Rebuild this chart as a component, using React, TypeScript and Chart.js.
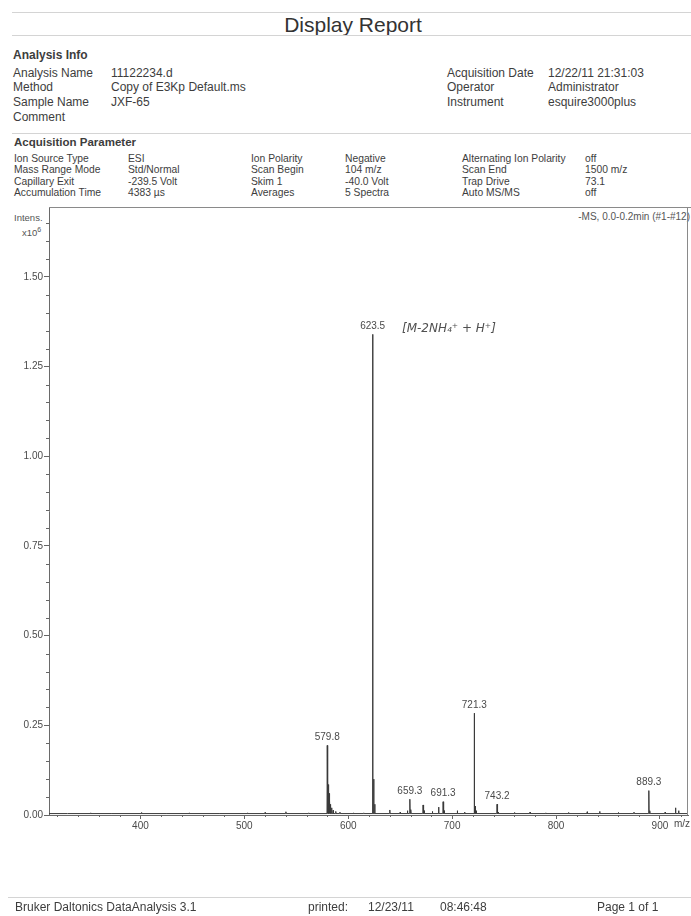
import React, { useEffect, useRef } from "react";
import { Chart, registerables } from "chart.js";

Chart.register(...registerables);

// Stick list of the spectrum (m/z, intensity in units of 10^6)
const stickMz = [
  330, 352, 372, 401, 425, 447, 476, 503, 520, 540, 562,
  579.8, 580.4, 581.0, 581.6, 582.2, 583.0, 584.0, 585.5, 588, 592,
  605, 615,
  623.5, 624.5, 625.5,
  640, 650, 657, 659.3, 660.3,
  672, 673, 681, 687, 691.3, 692.3,
  705, 712, 721.3, 722.3, 723.3,
  743.2, 744.2, 760, 775, 790, 812, 830, 842, 860, 875,
  889.3, 890.3, 905, 915, 918,
];
const stickIntensity = [
  0.004, 0.006, 0.005, 0.007, 0.005, 0.006, 0.005, 0.006, 0.007, 0.009, 0.006,
  0.194, 0.095, 0.085, 0.06, 0.04, 0.03, 0.02, 0.013, 0.01, 0.008,
  0.006, 0.006,
  1.34, 0.1, 0.03,
  0.014, 0.008, 0.012, 0.044, 0.015,
  0.028, 0.012, 0.01, 0.022, 0.037, 0.012,
  0.012, 0.008, 0.284, 0.025, 0.012,
  0.03, 0.008, 0.007, 0.008, 0.006, 0.007, 0.009, 0.01, 0.007, 0.008,
  0.068, 0.012, 0.008, 0.02, 0.012,
];
const baselineLevel = 0.004;

// Peaks annotated with their m/z
const labeledMz = [579.8, 623.5, 659.3, 691.3, 721.3, 743.2, 889.3];

// Axis ranges
const mzMin = 312;
const mzMax = 927;
const intensMax = 1.695;

const analysisInfo = [
  ["Analysis Name", "11122234.d", "Acquisition Date", "12/22/11 21:31:03"],
  ["Method", "Copy of E3Kp Default.ms", "Operator", "Administrator"],
  ["Sample Name", "JXF-65", "Instrument", "esquire3000plus"],
  ["Comment", "", "", ""],
];

const acquisitionParams = [
  ["Ion Source Type", "ESI", "Ion Polarity", "Negative", "Alternating Ion Polarity", "off"],
  ["Mass Range Mode", "Std/Normal", "Scan Begin", "104 m/z", "Scan End", "1500 m/z"],
  ["Capillary Exit", "-239.5 Volt", "Skim 1", "-40.0 Volt", "Trap Drive", "73.1"],
  ["Accumulation Time", "4383 µs", "Averages", "5 Spectra", "Auto MS/MS", "off"],
];

const FONT = "'Liberation Sans', Arial, Helvetica, sans-serif";
const INK = "#3d3d3d";

function buildProfile() {
  const pts: { x: number; y: number }[] = [{ x: mzMin, y: baselineLevel }];
  const half = 0.25;
  stickMz.forEach((mz, i) => {
    pts.push({ x: mz - half, y: baselineLevel });
    pts.push({ x: mz, y: stickIntensity[i] });
    pts.push({ x: mz + half, y: baselineLevel });
  });
  pts.push({ x: mzMax, y: baselineLevel });
  return pts;
}

const spectrumDecor = {
  id: "spectrumDecor",
  afterDraw(chart: any) {
    const { ctx, chartArea, scales } = chart;
    const xs = scales.x;
    const ys = scales.y;
    ctx.save();
    // frame top and right
    ctx.strokeStyle = "#8a8a8a";
    ctx.lineWidth = 1;
    ctx.beginPath();
    ctx.moveTo(chartArea.left, chartArea.top + 0.5);
    ctx.lineTo(chartArea.right + 3, chartArea.top + 0.5);
    ctx.moveTo(chartArea.right - 0.5, chartArea.top);
    ctx.lineTo(chartArea.right - 0.5, chartArea.bottom);
    ctx.stroke();

    // minor ticks
    ctx.strokeStyle = "#666";
    ctx.beginPath();
    for (let v = 0.05; v < intensMax; v += 0.05) {
      const r = Math.round(v * 100);
      if (r % 25 === 0) continue;
      const py = Math.round(ys.getPixelForValue(v)) + 0.5;
      ctx.moveTo(chartArea.left - 3, py);
      ctx.lineTo(chartArea.left, py);
    }
    for (let m = 320; m < mzMax; m += 20) {
      if (m % 100 === 0) continue;
      const px = Math.round(xs.getPixelForValue(m)) + 0.5;
      ctx.moveTo(px, chartArea.bottom);
      ctx.lineTo(px, chartArea.bottom + 2);
    }
    ctx.stroke();

    // peak labels
    ctx.fillStyle = "#4a4a4a";
    ctx.font = `10px ${FONT}`;
    ctx.textAlign = "center";
    ctx.textBaseline = "bottom";
    labeledMz.forEach((mz) => {
      const i = stickMz.indexOf(mz);
      const px = xs.getPixelForValue(mz);
      const py = ys.getPixelForValue(stickIntensity[i]);
      ctx.fillText(mz.toFixed(1), px, py - 3);
    });
    ctx.restore();
  },
};

function T(props: {
  x: number;
  y: number;
  size?: number;
  bold?: boolean;
  color?: string;
  children: React.ReactNode;
  style?: React.CSSProperties;
}) {
  const size = props.size ?? 12;
  return (
    <div
      style={{
        position: "absolute",
        left: props.x,
        top: props.y - size * 0.5,
        fontSize: size,
        lineHeight: `${size}px`,
        fontWeight: props.bold ? 700 : 400,
        fontFamily: FONT,
        color: props.color ?? INK,
        whiteSpace: "nowrap",
        ...props.style,
      }}
    >
      {props.children}
    </div>
  );
}

function HLine(props: { x1: number; x2: number; y: number; color?: string }) {
  return (
    <div
      style={{
        position: "absolute",
        left: props.x1,
        top: props.y,
        width: props.x2 - props.x1,
        height: 1,
        background: props.color ?? "#d4d4d4",
      }}
    />
  );
}

export default function App() {
  const canvasRef = useRef<HTMLCanvasElement | null>(null);

  useEffect(() => {
    document.body.style.margin = "0";
    const canvas = canvasRef.current;
    if (!canvas) return;
    const chart = new Chart(canvas, {
      type: "line",
      data: {
        datasets: [
          {
            data: buildProfile(),
            borderColor: "#3a3a3a",
            borderWidth: 1,
            pointRadius: 0,
            tension: 0,
            fill: false,
          },
        ],
      },
      options: {
        animation: false,
        responsive: false,
        maintainAspectRatio: false,
        devicePixelRatio: 1,
        layout: { padding: { top: 207, right: 3, left: 0, bottom: 0 } },
        plugins: {
          legend: { display: false },
          tooltip: { enabled: false },
        },
        scales: {
          x: {
            type: "linear",
            min: mzMin,
            max: mzMax,
            afterFit: (s: any) => {
              s.height = 101;
            },
            ticks: {
              stepSize: 100,
              autoSkip: false,
              maxRotation: 0,
              padding: 1,
              color: "#4a4a4a",
              font: { family: FONT, size: 10 },
              callback: (v: any) => (Number(v) % 100 === 0 ? String(v) : ""),
            },
            grid: {
              drawOnChartArea: false,
              tickLength: 4,
              color: (c: any) =>
                c.tick && Number(c.tick.value) % 100 === 0 ? "#666" : "rgba(0,0,0,0)",
            },
            border: { color: "#6a6a6a" },
          },
          y: {
            type: "linear",
            min: 0,
            max: intensMax,
            afterFit: (s: any) => {
              s.width = 49;
            },
            ticks: {
              stepSize: 0.25,
              autoSkip: false,
              padding: 1,
              color: "#4a4a4a",
              font: { family: FONT, size: 10 },
              callback: (v: any) =>
                Math.round(Number(v) * 100) % 25 === 0 ? Number(v).toFixed(2) : "",
            },
            grid: {
              drawOnChartArea: false,
              tickLength: 5,
              color: (c: any) =>
                c.tick && Math.round(Number(c.tick.value) * 100) % 25 === 0
                  ? "#666"
                  : "rgba(0,0,0,0)",
            },
            border: { color: "#6a6a6a" },
          },
        },
      },
      plugins: [spectrumDecor],
    });
    return () => chart.destroy();
  }, []);

  const infoRowsY = [73, 87, 102, 117];
  const paramRowsY = [159, 170.5, 182, 193.5];
  const paramCols = [14, 128, 251, 345, 462, 585];

  return (
    <div
      style={{
        position: "relative",
        width: 691,
        height: 916,
        overflow: "hidden",
        background: "#ffffff",
      }}
    >
      <HLine x1={12} x2={691} y={12} />
      <T x={0} y={24} size={21} style={{ width: 706, textAlign: "center", color: "#333" }}>
        Display Report
      </T>
      <HLine x1={12} x2={691} y={35} />

      <T x={13} y={55} size={12} bold>
        Analysis Info
      </T>
      {analysisInfo.map((row, i) => (
        <React.Fragment key={"ai" + i}>
          <T x={13} y={infoRowsY[i]}>{row[0]}</T>
          <T x={111} y={infoRowsY[i]}>{row[1]}</T>
          <T x={447} y={infoRowsY[i]}>{row[2]}</T>
          <T x={548} y={infoRowsY[i]}>{row[3]}</T>
        </React.Fragment>
      ))}

      <HLine x1={12} x2={691} y={133} />
      <T x={14} y={143} size={11.5} bold>
        Acquisition Parameter
      </T>
      {acquisitionParams.map((row, i) => (
        <React.Fragment key={"ap" + i}>
          {row.map((cell, j) => (
            <T key={j} x={paramCols[j]} y={paramRowsY[i]} size={10.3}>
              {cell}
            </T>
          ))}
        </React.Fragment>
      ))}

      <T x={14} y={218} size={9.5} color="#555">
        Intens.
      </T>
      <T x={22} y={230} size={9.5} color="#555">
        x10<sup style={{ fontSize: 7, verticalAlign: "4px" }}>6</sup>
      </T>
      <T x={400} y={217} size={10} color="#555" style={{ width: 290, textAlign: "right" }}>
        -MS, 0.0-0.2min (#1-#12)
      </T>

      <canvas
        ref={canvasRef}
        width={691}
        height={916}
        style={{ position: "absolute", left: 0, top: 0, width: 691, height: 916 }}
      />

      <T
        x={402}
        y={328}
        size={12}
        color="#505050"
        style={{ fontFamily: "'DejaVu Sans', sans-serif", fontStyle: "italic", fontWeight: 300 }}
      >
        [M-2NH₄⁺ + H⁺]
      </T>
      <T x={674} y={824} size={10} color="#4a4a4a">
        m/z
      </T>

      <HLine x1={8} x2={691} y={897} />
      <T x={15} y={907} size={12}>Bruker Daltonics DataAnalysis 3.1</T>
      <T x={308} y={907} size={12}>printed:</T>
      <T x={368} y={907} size={12}>12/23/11</T>
      <T x={440} y={907} size={12}>08:46:48</T>
      <T x={597} y={907} size={12}>Page 1 of 1</T>
    </div>
  );
}
